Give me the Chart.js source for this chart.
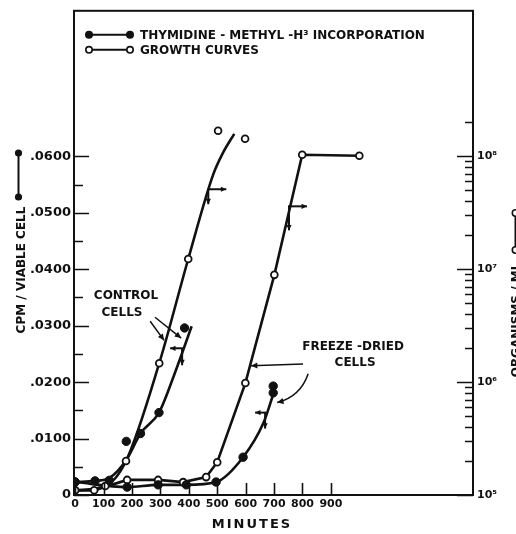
<!DOCTYPE html>
<html>
<head>
<meta charset="utf-8">
<script src="https://cdn.jsdelivr.net/npm/chart.js@4.4.1/dist/chart.umd.min.js"></script>
<style>
  html, body { margin: 0; padding: 0; background: #fff; }
  #wrap { width: 516px; height: 534px; }
</style>
</head>
<body>
<div id="wrap"><canvas id="chart" width="516" height="534"></canvas></div>
<script>
// x = minutes, left axis = CPM / viable cell, right axis = organisms / ml (log)
const X_TICKS = [0, 100, 200, 300, 400, 500, 600, 700, 800, 900];
const Y_TICKS = [0, 0.005, 0.01, 0.015, 0.02, 0.025, 0.03, 0.035, 0.04, 0.045, 0.05, 0.055, 0.06];
const Y2_DECADES = [1e5, 1e6, 1e7, 1e8];
const SUP = { '5': '⁵', '6': '⁶', '7': '⁷', '8': '⁸', '9': '⁹' };

// thymidine-methyl-H3 incorporation, control cells (filled points)
const CTRL_THY_X = [0, 70, 120, 180, 230, 295, 385];
const CTRL_THY_Y = [0.0023, 0.0025, 0.0026, 0.0095, 0.0109, 0.0146, 0.0296];
// hand-drawn curve through them
const CTRL_THY_FIT_X = [0, 70, 120, 180, 230, 295, 350, 410];
const CTRL_THY_FIT_Y = [0.0023, 0.0025, 0.0030, 0.0062, 0.0109, 0.0146, 0.0215, 0.0299];

// thymidine incorporation, freeze-dried cells
const FRZ_THY_X = [0, 183, 292, 391, 496, 591, 697, 697];
const FRZ_THY_Y = [0.0023, 0.0014, 0.0018, 0.0018, 0.0023, 0.0067, 0.0193, 0.0181];
const FRZ_THY_FIT_X = [0, 183, 292, 391, 496, 591, 662, 697];
const FRZ_THY_FIT_Y = [0.0023, 0.0014, 0.0018, 0.0018, 0.0023, 0.0067, 0.0127, 0.0178];

// growth curve, control cells (open points)
const CTRL_GROW_X = [0, 106, 179, 296, 398, 503, 598];
const CTRL_GROW_Y = [1.1e5, 1.2e5, 2.0e5, 1.47e6, 1.23e7, 1.68e8, 1.43e8];
const CTRL_GROW_FIT_X = [0, 106, 179, 296, 398, 486, 521, 560];
const CTRL_GROW_FIT_Y = [1.1e5, 1.2e5, 2.0e5, 1.47e6, 1.23e7, 6.9e7, 1.08e8, 1.58e8];

// growth curve, freeze-dried cells
const FRZ_GROW_X = [0, 67, 183, 292, 380, 461, 500, 599, 701, 799, 1000];
const FRZ_GROW_Y = [1.1e5, 1.1e5, 1.36e5, 1.36e5, 1.3e5, 1.44e5, 1.95e5, 9.8e5, 8.9e6, 1.03e8, 1.01e8];

// labels on the plot (minutes, left-axis value)
const NOTES = [
  { text: 'CONTROL', x: 179, y: 0.0352 },
  { text: 'CELLS', x: 165, y: 0.0322 },
  { text: 'FREEZE -DRIED', x: 978, y: 0.0262 },
  { text: 'CELLS', x: 985, y: 0.0234 },
];
const POINTERS = [
  { from: [264, 0.0308], to: [313, 0.0274] },
  { from: [281, 0.0315], to: [373, 0.0278] },
  { from: [802, 0.0232], to: [619, 0.0229] },
  { from: [820, 0.0215], ctrl: [792, 0.0174], to: [711, 0.0164] },
];
// little arrows telling which axis a curve is read on
const AXIS_ARROWS = [
  { axis: 'y2', x: 465, y: 5.1e7, side: 1, len: 19, down: 15 },
  { axis: 'y2', x: 749, y: 3.6e7, side: 1, len: 19, down: 24 },
  { axis: 'y', x: 380, y: 0.026, side: -1, len: 13, down: 17 },
  { axis: 'y', x: 672, y: 0.0146, side: -1, len: 11, down: 16 },
];

const INK = '#111';
const FONT = '"DejaVu Sans", "Liberation Sans", sans-serif';
const pts = (xs, ys) => xs.map((x, i) => ({ x: x, y: ys[i] }));

function arrow(ctx, x1, y1, x2, y2, head) {
    ctx.beginPath();
    ctx.moveTo(x1, y1);
    ctx.lineTo(x2, y2);
    ctx.stroke();
    arrowHead(ctx, x1, y1, x2, y2, head);
}

function arrowHead(ctx, x1, y1, x2, y2, head) {
    const a = Math.atan2(y2 - y1, x2 - x1);
    ctx.beginPath();
    ctx.moveTo(x2, y2);
    ctx.lineTo(x2 - head * Math.cos(a - 0.45), y2 - head * Math.sin(a - 0.45));
    ctx.lineTo(x2 - head * Math.cos(a + 0.45), y2 - head * Math.sin(a + 0.45));
    ctx.closePath();
    ctx.fill();
}

// frame, inward ticks, legend, titles and notes
const decorations = {
    id: 'decorations',
    afterDraw(chart) {
        const { ctx, chartArea: a, scales } = chart;
        const sx = scales.x, sy = scales.y, sy2 = scales.y2;
        ctx.save();
        ctx.strokeStyle = INK;
        ctx.fillStyle = INK;
        ctx.lineCap = 'butt';

        // frame
        ctx.lineWidth = 2;
        ctx.strokeRect(a.left, a.top, a.right - a.left, a.bottom - a.top);

        // ticks pointing into the plot
        ctx.lineWidth = 1.6;
        ctx.beginPath();
        sx.ticks.forEach(t => {
            const p = Math.round(sx.getPixelForValue(t.value)) + 0.5;
            ctx.moveTo(p, a.bottom);
            ctx.lineTo(p, a.bottom - 12);
        });
        sy.ticks.forEach(t => {
            const p = Math.round(sy.getPixelForValue(t.value)) + 0.5;
            const major = Math.abs(t.value * 100 - Math.round(t.value * 100)) < 1e-6;
            ctx.moveTo(a.left, p);
            ctx.lineTo(a.left + (major ? 15 : 9), p);
        });
        sy2.ticks.forEach(t => {
            const p = Math.round(sy2.getPixelForValue(t.value)) + 0.5;
            const l = Math.log10(t.value);
            const major = Math.abs(l - Math.round(l)) < 1e-9;
            ctx.moveTo(a.right, p);
            ctx.lineTo(a.right - (major ? 16 : 8), p);
        });
        ctx.stroke();

        // legend
        ctx.font = 'bold 12px ' + FONT;
        ctx.textBaseline = 'middle';
        ctx.textAlign = 'left';
        [['THYMIDINE - METHYL -H³ INCORPORATION', true], ['GROWTH CURVES', false]].forEach((row, i) => {
            const y = a.top + 24 + i * 15;
            const x0 = a.left + 15, x1 = a.left + 56;
            ctx.lineWidth = 2;
            ctx.beginPath();
            ctx.moveTo(x0, y);
            ctx.lineTo(x1, y);
            ctx.stroke();
            [x0, x1].forEach(x => {
                ctx.beginPath();
                ctx.arc(x, y, 3.2, 0, Math.PI * 2);
                ctx.fillStyle = row[1] ? INK : '#fff';
                ctx.fill();
                ctx.lineWidth = 1.6;
                ctx.stroke();
            });
            ctx.fillStyle = INK;
            ctx.fillText(row[0], a.left + 66, y + 1);
        });

        // x title
        ctx.font = 'bold 13px ' + FONT;
        ctx.textAlign = 'center';
        ctx.letterSpacing = '2px';
        ctx.fillText('MINUTES', 252, 525);
        ctx.letterSpacing = '0px';

        // left title with its key
        ctx.save();
        ctx.translate(25, 270);
        ctx.rotate(-Math.PI / 2);
        ctx.textBaseline = 'alphabetic';
        ctx.font = 'bold 12px ' + FONT;
        ctx.fillText('CPM / VIABLE CELL', 0, 0);
        ctx.restore();
        ctx.lineWidth = 2;
        ctx.beginPath();
        ctx.moveTo(18.5, 153);
        ctx.lineTo(18.5, 197);
        ctx.stroke();
        [153, 197].forEach(y => {
            ctx.beginPath();
            ctx.arc(18.5, y, 3.6, 0, Math.PI * 2);
            ctx.fill();
        });

        // right title with its key (cut by the page edge)
        ctx.save();
        ctx.translate(520, 320);
        ctx.rotate(-Math.PI / 2);
        ctx.textBaseline = 'alphabetic';
        ctx.font = 'bold 12px ' + FONT;
        ctx.fillText('ORGANISMS / ML', 0, 0);
        ctx.restore();
        ctx.lineWidth = 2;
        ctx.beginPath();
        ctx.moveTo(515.5, 213);
        ctx.lineTo(515.5, 250);
        ctx.stroke();
        [213, 250].forEach(y => {
            ctx.beginPath();
            ctx.arc(515.5, y, 3.2, 0, Math.PI * 2);
            ctx.fillStyle = '#fff';
            ctx.fill();
            ctx.lineWidth = 1.6;
            ctx.stroke();
        });
        ctx.fillStyle = INK;

        // notes on the plot
        ctx.font = 'bold 12px ' + FONT;
        ctx.textBaseline = 'middle';
        NOTES.forEach(n => {
            ctx.fillText(n.text, sx.getPixelForValue(n.x), sy.getPixelForValue(n.y));
        });

        ctx.lineWidth = 1.5;
        POINTERS.forEach(p => {
            const x1 = sx.getPixelForValue(p.from[0]), y1 = sy.getPixelForValue(p.from[1]);
            const x2 = sx.getPixelForValue(p.to[0]), y2 = sy.getPixelForValue(p.to[1]);
            if (p.ctrl) {
                const cx = sx.getPixelForValue(p.ctrl[0]), cy = sy.getPixelForValue(p.ctrl[1]);
                ctx.beginPath();
                ctx.moveTo(x1, y1);
                ctx.quadraticCurveTo(cx, cy, x2, y2);
                ctx.stroke();
                arrowHead(ctx, cx, cy, x2, y2, 7);
            } else {
                arrow(ctx, x1, y1, x2, y2, 7);
            }
        });

        ctx.lineWidth = 2;
        AXIS_ARROWS.forEach(r => {
            const x = sx.getPixelForValue(r.x), y = scales[r.axis].getPixelForValue(r.y);
            arrow(ctx, x, y, x + r.side * r.len, y, 6);
            arrow(ctx, x + r.side, y, x + r.side, y + r.down, 6);
        });
        ctx.restore();
    }
};

const tickFont = { family: FONT, weight: 'bold', size: 11 };

const ctx = document.getElementById('chart').getContext('2d');
window.chartInstance = new Chart(ctx, {
    type: 'line',
    data: {
        datasets: [
            {
                data: pts(CTRL_THY_X, CTRL_THY_Y), yAxisID: 'y', showLine: false,
                pointRadius: 4.2, pointBackgroundColor: INK, pointBorderColor: INK, pointBorderWidth: 1
            },
            {
                data: pts(FRZ_THY_X, FRZ_THY_Y), yAxisID: 'y', showLine: false,
                pointRadius: 4.2, pointBackgroundColor: INK, pointBorderColor: INK, pointBorderWidth: 1
            },
            {
                data: pts(CTRL_GROW_X, CTRL_GROW_Y), yAxisID: 'y2', showLine: false,
                pointRadius: 3.4, pointBackgroundColor: '#fff', pointBorderColor: INK, pointBorderWidth: 1.8
            },
            {
                data: pts(FRZ_GROW_X, FRZ_GROW_Y), yAxisID: 'y2',
                borderColor: INK, borderWidth: 2.6, tension: 0,
                pointRadius: 3.4, pointBackgroundColor: '#fff', pointBorderColor: INK, pointBorderWidth: 1.8
            },
            {
                data: pts(CTRL_THY_FIT_X, CTRL_THY_FIT_Y), yAxisID: 'y',
                borderColor: INK, borderWidth: 2.6, cubicInterpolationMode: 'monotone', pointRadius: 0
            },
            {
                data: pts(FRZ_THY_FIT_X, FRZ_THY_FIT_Y), yAxisID: 'y',
                borderColor: INK, borderWidth: 2.6, cubicInterpolationMode: 'monotone', pointRadius: 0
            },
            {
                data: pts(CTRL_GROW_FIT_X, CTRL_GROW_FIT_Y), yAxisID: 'y2',
                borderColor: INK, borderWidth: 2.6, cubicInterpolationMode: 'monotone', pointRadius: 0
            }
        ]
    },
    options: {
        animation: false,
        responsive: false,
        devicePixelRatio: 1,
        layout: { padding: { left: 30, right: 0, top: 7, bottom: 0 } },
        plugins: { legend: { display: false }, tooltip: { enabled: false } },
        scales: {
            x: {
                type: 'linear', min: -4, max: 1400,
                afterBuildTicks: s => { s.ticks = X_TICKS.map(v => ({ value: v })); },
                afterFit: s => { s.height = 39; },
                grid: { display: false, drawTicks: false },
                border: { display: false },
                ticks: { color: INK, font: tickFont, padding: 3, maxRotation: 0, autoSkip: false }
            },
            y: {
                position: 'left', min: 0, max: 0.0858,
                afterBuildTicks: s => { s.ticks = Y_TICKS.map(v => ({ value: v })); },
                afterFit: s => { s.width = 44; },
                grid: { display: false, drawTicks: false },
                border: { display: false },
                ticks: {
                    color: INK, font: { family: FONT, weight: 'bold', size: 13 }, padding: 3, autoSkip: false,
                    callback: v => {
                        if (v === 0) return '0';
                        if (Math.abs(v * 100 - Math.round(v * 100)) > 1e-6) return '';
                        return v.toFixed(4).slice(1);
                    }
                }
            },
            y2: {
                type: 'logarithmic', position: 'right', min: 1e5, max: 1.94e9,
                afterBuildTicks: s => {
                    const t = [];
                    Y2_DECADES.forEach(d => {
                        t.push({ value: d });
                        if (d < 1e8) for (let m = 2; m <= 9; m++) t.push({ value: d * m });
                    });
                    t.push({ value: 2e8 });
                    s.ticks = t;
                },
                afterFit: s => { s.width = 43; },
                grid: { display: false, drawTicks: false },
                border: { display: false },
                ticks: {
                    color: INK, font: { family: FONT, weight: 'bold', size: 11 }, padding: 4, autoSkip: false,
                    callback: v => {
                        const l = Math.log10(v);
                        if (Math.abs(l - Math.round(l)) > 1e-9) return '';
                        return '10' + SUP[String(Math.round(l))];
                    }
                }
            }
        }
    },
    plugins: [decorations]
});
</script>
</body>
</html>
